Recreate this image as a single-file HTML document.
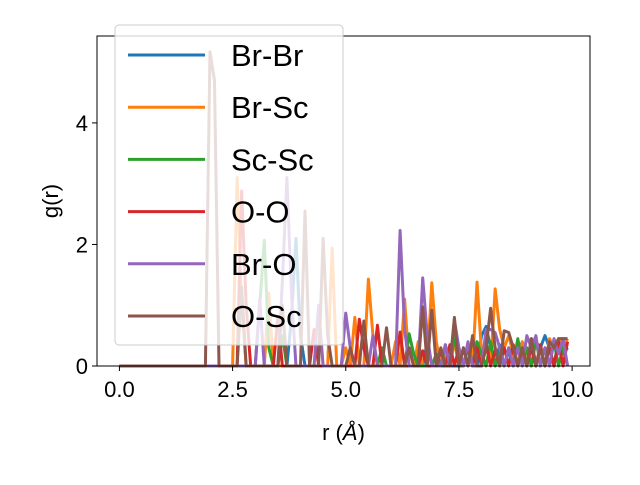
<!DOCTYPE html>
<html><head><meta charset="utf-8"><style>
body{margin:0;background:#fff;}
svg text{font-family:"Liberation Sans","DejaVu Sans",sans-serif;}
</style></head><body>
<svg id="chart" width="640" height="480" xmlns="http://www.w3.org/2000/svg">
<rect width="640" height="480" fill="#fff"/>
<g id="plot"></g>
<g id="axes"></g>
<g id="legend"></g>
</svg>
<script>
const seriesNames=["Br-Br","Br-Sc","Sc-Sc","O-O","Br-O","O-Sc"];
const seriesColors=["#1f77b4","#ff7f0e","#2ca02c","#d62728","#9467bd","#8c564b"];
const xTicks=[0,2.5,5,7.5,10];
const xTickLabels=["0.0","2.5","5.0","7.5","10.0"];
const yTicks=[0,2,4];
const yTickLabels=["0","2","4"];
function sparse(m){const a=new Array(100).fill(0);for(const k in m)a[+k]=m[k];return a;}
const brbr=sparse({38:0.8,39:2.1,40:0.5,64:0.3,66:0.25,68:0.4,76:0.3,78:0.4,80:0.5,81:0.65,82:0.3,84:0.35,86:0.25,88:0.4,89:0.3,91:0.45,93:0.3,94:0.5,95:0.3,97:0.45,98:0.2,99:0.3});
const brsc=sparse({26:3.1,27:1.0,33:1.2,47:1.94,50:0.3,52:0.8,55:1.43,56:0.5,61:0.4,63:1.1,66:0.4,69:1.37,70:0.4,72:0.2,74:0.4,77:0.3,79:1.38,80:0.2,81:0.4,83:1.27,84:0.6,85:0.3,86:0.5,87:0.2,89:0.4,90:0.2,92:0.4,93:0.3,95:0.45,96:0.3,97:0.45,98:0.3,99:0.45});
const scsc=sparse({31:1.0,32:2.07,33:0.3,36:0.5,58:0.3,64:0.53,65:0.2,70:0.2,72:0.35,74:0.5,77:0.3,79:0.4,80:0.2,82:0.4,84:0.2,86:0.3,88:0.45,90:0.3,92:0.45,94:0.3,96:0.4,98:0.3});
const oo=sparse({27:2.88,28:1.0,35:0.8,43:0.6,53:0.77,54:0.3,57:0.67,62:0.56,67:0.25,71:0.25,73:0.35,75:0.3,77:0.35,79:0.3,81:0.35,83:0.25,85:0.3,87:0.35,89:0.25,91:0.3,93:0.35,95:0.3,97:0.4,99:0.4});
const bro=sparse({31:1.1,36:1.4,37:3.1,38:1.2,44:1.0,50:0.87,51:0.3,56:0.5,62:2.23,63:0.6,67:1.45,68:0.5,72:0.35,74:0.75,75:0.3,77:0.4,81:0.6,82:0.6,83:0.55,84:0.3,86:0.3,88:0.3,90:0.5,91:0.3,92:0.5,94:0.3,96:0.45,97:0.2,98:0.45});
const osc=sparse({20:5.17,21:4.7,27:1.3,36:1.0,41:2.55,45:2.1,46:0.5,51:0.3,54:0.74,59:0.63,64:0.3,67:0.97,69:0.92,71:0.3,74:0.8,76:0.3,78:0.5,81:0.3,82:0.95,83:0.3,85:0.58,86:0.55,87:0.3,89:0.3,91:0.45,93:0.3,95:0.4,96:0.3,97:0.45,98:0.45,99:0.45});
const seriesValues=[brbr,brsc,scsc,oo,bro,osc];
const rValues=Array.from({length:100},(_,i)=>i/10);
const L=97,R=590,T=36,B=366,xmin=-0.495,xmax=10.395,ymin=0,ymax=5.43;
const X=v=>L+(v-xmin)/(xmax-xmin)*(R-L);
const Y=v=>B-(v-ymin)/(ymax-ymin)*(B-T);
const NS="http://www.w3.org/2000/svg";
function mk(tag,attrs,parent){const e=document.createElementNS(NS,tag);for(const k in attrs)e.setAttribute(k,attrs[k]);parent.appendChild(e);return e;}
const plot=document.getElementById('plot'),axes=document.getElementById('axes'),leg=document.getElementById('legend');
seriesValues.forEach((vals,s)=>{
  const d=vals.map((v,i)=>(i?'L':'M')+X(rValues[i]).toFixed(2)+' '+Y(v).toFixed(2)).join(' ');
  const p=mk('path',{d:d,fill:'none',stroke:seriesColors[s],'stroke-width':3,'stroke-linejoin':'round'},plot);
  
  
});
const frame=mk('rect',{x:L,y:T,width:R-L,height:B-T,fill:'none',stroke:'#000','stroke-width':1},axes);


xTicks.forEach((t,i)=>{
  const x=X(t);
  mk('line',{x1:x,x2:x,y1:B,y2:B+5,stroke:'#000'},axes);
  const tx=mk('text',{x:x,y:B+31,'font-size':22,'text-anchor':'middle'},axes);
  tx.textContent=xTickLabels[i];
  
  
});
yTicks.forEach((t,i)=>{
  const y=Y(t);
  mk('line',{x1:L-5,x2:L,y1:y,y2:y,stroke:'#000'},axes);
  const tx=mk('text',{x:L-9,y:y+8,'font-size':22,'text-anchor':'end'},axes);
  tx.textContent=yTickLabels[i];
  
  
});
const xl=mk('text',{x:(L+R)/2,y:440,'font-size':22,'text-anchor':'middle'},axes);
xl.innerHTML='r (<tspan font-style="italic">Å</tspan>)';


const yl=mk('text',{x:0,y:0,'font-size':22,'text-anchor':'middle',transform:'translate(58,201) rotate(-90)'},axes);
yl.textContent='g(r)';


const box=mk('rect',{x:115,y:25,width:228,height:320,rx:4,fill:'rgba(255,255,255,0.8)',stroke:'#ccc','stroke-width':1},leg);


seriesNames.forEach((n,i)=>{
  const y=55+i*52.2;
  const g=mk('g',{},leg);
  
  
  mk('line',{x1:128,x2:205,y1:y,y2:y,stroke:seriesColors[i],'stroke-width':3},g);
  const t=mk('text',{x:231,y:y+11,'font-size':31},g);
  t.textContent=n;
});
</script>
</body></html>
